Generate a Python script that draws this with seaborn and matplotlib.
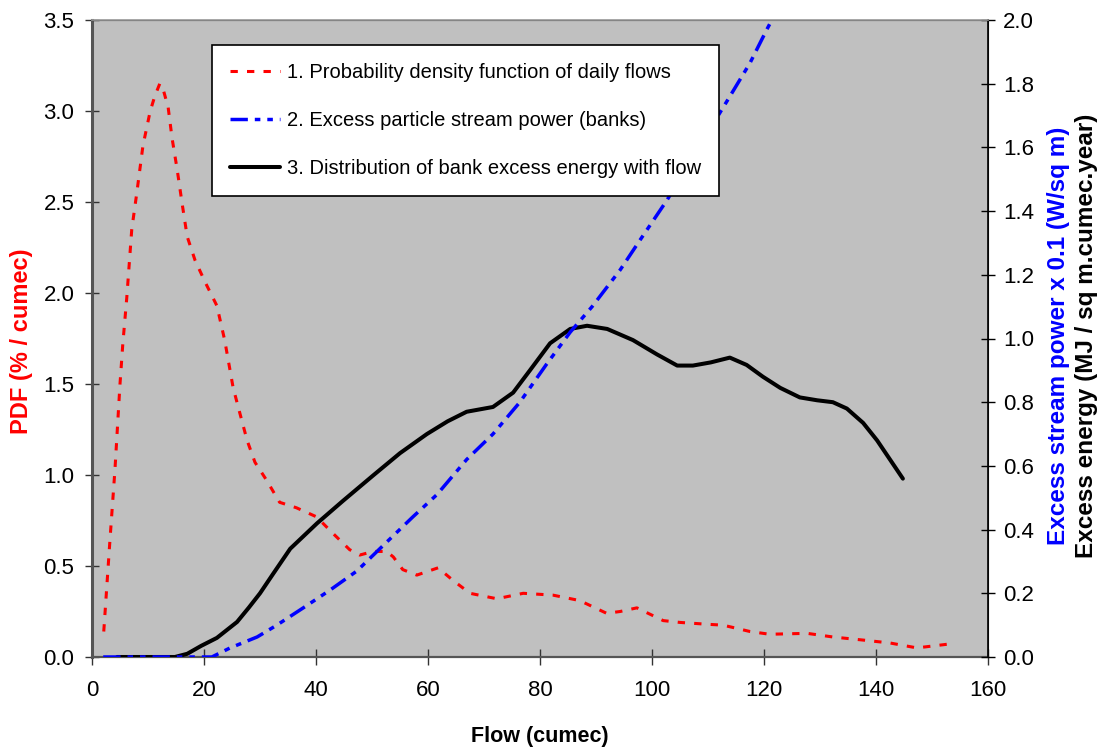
import matplotlib
matplotlib.use("Agg")
import matplotlib.pyplot as plt
import seaborn as sns
import pandas as pd

# Probability density function of daily flows (% / cumec)
pdf_flow = [2.1, 3.2, 4.1, 5.0, 5.5, 6.2, 7.1, 8.0, 9.1, 10.4, 11.2, 12.1, 12.7, 13.6,
            14.3, 15.2, 16.1, 17.0, 18.4, 20.2, 22.3, 23.7, 25.2, 26.4, 27.7, 29.1,
            31.2, 33.5, 36.5, 40.1, 43.0, 46.0, 47.8, 50.2, 52.6, 53.8, 55.5, 58.0,
            61.8, 64.5, 67.5, 72.3, 77.0, 82.3, 87.1, 91.9, 94.3, 97.3, 102.0, 105.0,
            109.8, 112.7, 117.5, 121.0, 127.7, 132.3, 137.7, 142.5, 147.3, 152.7]
pdf_value = [0.14, 0.64, 1.03, 1.50, 1.72, 1.97, 2.35, 2.55, 2.81, 3.00, 3.08, 3.15, 3.12,
             3.02, 2.85, 2.68, 2.49, 2.31, 2.18, 2.06, 1.93, 1.74, 1.48, 1.34, 1.19, 1.07,
             0.97, 0.85, 0.82, 0.77, 0.68, 0.59, 0.56, 0.58, 0.58, 0.55, 0.48, 0.45, 0.49,
             0.42, 0.35, 0.32, 0.35, 0.34, 0.31, 0.24, 0.25, 0.27, 0.20, 0.19, 0.18, 0.175,
             0.14, 0.125, 0.13, 0.11, 0.093, 0.077, 0.05, 0.07]

# Excess particle stream power on the banks (W/sq m x 0.1)
power_flow = [2.0, 21.4, 24.6, 29.5, 33.0, 37.7, 42.5, 47.3, 51.4, 57.3, 61.6, 66.9,
              71.6, 76.4, 81.2, 85.4, 89.3, 94.3, 97.9, 102.7, 108.0, 113.9, 117.5,
              120.5, 122.0]
power_value = [0.0, 0.0, 0.028, 0.063, 0.10, 0.154, 0.21, 0.27, 0.34, 0.44, 0.51, 0.62,
               0.70, 0.80, 0.92, 1.02, 1.10, 1.215, 1.31, 1.435, 1.59, 1.76, 1.865,
               1.97, 2.02]

# Distribution of bank excess energy with flow (MJ / sq m.cumec.year)
energy_flow = [4.5, 14.8, 17.0, 19.5, 22.3, 25.9, 28.0, 30.0, 32.3, 35.4, 40.2, 44.8,
               50.2, 55.0, 59.8, 63.5, 66.9, 71.6, 75.2, 78.2, 81.8, 85.4, 88.4, 92.0,
               96.6, 100.9, 104.5, 107.3, 110.5, 113.9, 116.9, 119.8, 122.9, 126.4,
               129.5, 132.3, 134.8, 137.7, 140.2, 144.8]
energy_value = [0.0, 0.0, 0.01, 0.035, 0.06, 0.11, 0.155, 0.2, 0.26, 0.34, 0.42, 0.49,
                0.57, 0.64, 0.70, 0.74, 0.77, 0.785, 0.83, 0.90, 0.985, 1.03, 1.04, 1.03,
                0.995, 0.95, 0.915, 0.915, 0.925, 0.94, 0.917, 0.88, 0.845, 0.815,
                0.806, 0.80, 0.78, 0.735, 0.68, 0.56]

series_labels = ["1. Probability density function of daily flows",
                 "2. Excess particle stream power (banks)",
                 "3. Distribution of bank excess energy with flow"]

x_ticks = [0, 20, 40, 60, 80, 100, 120, 140, 160]
left_ticks = [0.0, 0.5, 1.0, 1.5, 2.0, 2.5, 3.0, 3.5]
right_ticks = [0.0, 0.2, 0.4, 0.6, 0.8, 1.0, 1.2, 1.4, 1.6, 1.8, 2.0]

sns.set_style("white")
plt.rcParams["font.family"] = ["Liberation Sans", "DejaVu Sans"]
plt.rcParams["text.color"] = "black"
plt.rcParams["xtick.labelcolor"] = "black"
plt.rcParams["ytick.labelcolor"] = "black"

fig = plt.figure(figsize=(11.07, 7.48), dpi=100)
ax = fig.add_axes([92 / 1107, 1 - 657 / 748, 896 / 1107, 637 / 748])
ax.set_facecolor("#C0C0C0")
ax2 = ax.twinx()

pdf_df = pd.DataFrame({"flow": pdf_flow, "value": pdf_value})
power_df = pd.DataFrame({"flow": power_flow, "value": power_value})
energy_df = pd.DataFrame({"flow": energy_flow, "value": energy_value})

sns.lineplot(data=pdf_df, x="flow", y="value", ax=ax, sort=False, estimator=None,
             color="#FF0000", linewidth=2.2)
red_line = ax.get_lines()[-1]
red_line.set_linestyle((0, (2.4, 3.0)))

sns.lineplot(data=energy_df, x="flow", y="value", ax=ax2, sort=False, estimator=None,
             color="black", linewidth=2.9)
black_line = ax2.get_lines()[-1]

sns.lineplot(data=power_df, x="flow", y="value", ax=ax2, sort=False, estimator=None,
             color="#0000FF", linewidth=2.5)
blue_line = ax2.get_lines()[-1]
blue_line.set_linestyle((0, (5.0, 2.0, 1.6, 2.0, 1.6, 2.0)))

ax.set_xlim(0, 160)
ax.set_ylim(0, 3.5)
ax2.set_ylim(0, 2.0)
ax.set_xticks(x_ticks)
ax.set_xticklabels([str(v) for v in x_ticks])
ax.set_yticks(left_ticks)
ax.set_yticklabels([f"{v:.1f}" for v in left_ticks])
ax2.set_yticks(right_ticks)
ax2.set_yticklabels([f"{v:.1f}" for v in right_ticks])

ax.tick_params(axis="x", direction="inout", length=11, width=1, color="#333333",
               labelcolor="black", labelsize=16, pad=11, bottom=True)
ax.tick_params(axis="y", direction="inout", length=9.5, width=1, color="#333333",
               labelcolor="black", labelsize=16, pad=8, left=True)
ax2.tick_params(axis="y", direction="inout", length=10, width=1, color="black",
                labelcolor="black", labelsize=16, pad=6, right=True)

for a in (ax, ax2):
    a.set_xlabel("")
    a.set_ylabel("")
    for s in a.spines.values():
        s.set_visible(True)
ax.spines["left"].set_color("#555555")
ax.spines["left"].set_linewidth(2.2)
ax.spines["bottom"].set_color("#555555")
ax.spines["bottom"].set_linewidth(1.6)
ax2.spines["top"].set_color("#999999")
ax2.spines["top"].set_linewidth(1.2)
ax2.spines["right"].set_color("black")
ax2.spines["right"].set_linewidth(1.2)
ax2.spines["left"].set_visible(False)
ax2.spines["bottom"].set_visible(False)

ax.set_xlabel("Flow (cumec)", fontsize=15.5, fontweight="bold", color="black")
ax.xaxis.set_label_coords(0.5, -0.108)
ax.set_ylabel("PDF (% / cumec)", fontsize=17, fontweight="bold", color="#FF0000")
ax.yaxis.set_label_coords(-0.066, 0.496)

fig.text(1058 / 1107, 1 - 336 / 748, "Excess stream power x 0.1 (W/sq m)",
         rotation=90, ha="center", va="center", fontsize=17.5, fontweight="bold",
         color="#0000FF")
fig.text(1086 / 1107, 1 - 336 / 748, "Excess energy (MJ / sq m.cumec.year)",
         rotation=90, ha="center", va="center", fontsize=17.5, fontweight="bold",
         color="black")

leg = ax2.legend([red_line, blue_line, black_line], series_labels,
                 loc="upper left", bbox_to_anchor=(0.134, 0.961), borderaxespad=0,
                 fontsize=14.5, frameon=True, fancybox=False, framealpha=1,
                 edgecolor="black", facecolor="white", handlelength=2.5,
                 handletextpad=0.35, labelspacing=1.45, borderpad=0.88)
leg.get_frame().set_linewidth(1.2)
for t in leg.get_texts():
    t.set_color("black")

fig.savefig("out.png", dpi=100, facecolor="white")
